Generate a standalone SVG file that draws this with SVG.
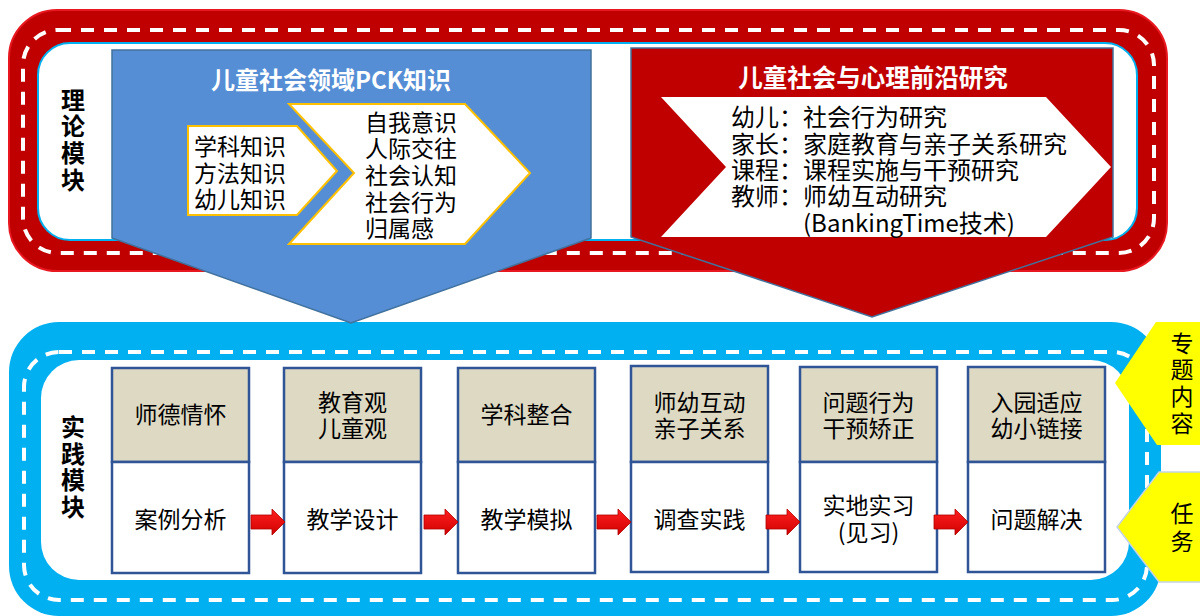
<svg xmlns="http://www.w3.org/2000/svg" width="1200" height="616" viewBox="0 0 1200 616">
<defs>
<style>
text{font-family:"Noto Sans CJK SC","Liberation Sans",sans-serif;dominant-baseline:central}
.dash{fill:none;stroke:#fff;stroke-width:4;stroke-dasharray:13 10}
.lbl{font-size:24px;font-weight:bold;fill:#000;text-anchor:middle}
.t{font-size:23px;fill:#000}
.c{text-anchor:middle}
.wt{font-size:24px;font-weight:bold;fill:#fff;text-anchor:middle}
.top{fill:#DDD9C3;stroke:#2F5597;stroke-width:2.5}
.bot{fill:#fff;stroke:#2F5597;stroke-width:2.5}
.arr{fill:url(#rg);stroke:#B00000;stroke-width:0.8}
.tab{fill:#FFFF00}
</style>
<linearGradient id="rg" x1="0" y1="0" x2="0" y2="1">
<stop offset="0" stop-color="#FF2020"/>
<stop offset="1" stop-color="#D00000"/>
</linearGradient>
</defs>

<g id="theory-frame">
<rect x="9" y="10" width="1158" height="261" rx="48" fill="#C00000" stroke="#E81820" stroke-width="2"/>
<rect class="dash" x="23" y="30" width="1131" height="223" rx="35"/>
<rect x="38" y="43" width="1099" height="197" rx="32" fill="#fff" stroke="#00B0F0" stroke-width="2"/>
<text class="lbl"><tspan x="73" y="98">理</tspan><tspan x="73" y="124">论</tspan><tspan x="73" y="151">模</tspan><tspan x="73" y="178">块</tspan></text>
</g>

<g id="practice-frame">
<rect x="9" y="322" width="1152" height="294" rx="50" fill="#00B0F0"/>
<rect class="dash" x="24" y="352" width="1123" height="248" rx="35"/>
<rect x="41" y="360" width="1088" height="220" rx="38" fill="#fff"/>
<text class="lbl"><tspan x="73" y="425">实</tspan><tspan x="73" y="452">践</tspan><tspan x="73" y="478">模</tspan><tspan x="73" y="505">块</tspan></text>
</g>

<g id="pck">
<polygon points="112,50 591,50 591,238 351,323 112,238" fill="#558ED5" stroke="#41719C" stroke-width="1.5"/>
<text class="wt" x="331" y="78">儿童社会领域PCK知识</text>
<polygon points="188,126 297,126 337,171 297,215 188,215" fill="#fff" stroke="#FFC000" stroke-width="2"/>
<text class="t"><tspan x="194" y="145">学科知识</tspan><tspan x="194" y="172">方法知识</tspan><tspan x="194" y="198">幼儿知识</tspan></text>
<polygon points="289,104 465,104 530,173 465,244 289,244 354,173" fill="#fff" stroke="#FFC000" stroke-width="2"/>
<text class="t"><tspan x="365" y="121">自我意识</tspan><tspan x="365" y="147">人际交往</tspan><tspan x="365" y="174">社会认知</tspan><tspan x="365" y="201">社会行为</tspan><tspan x="365" y="227">归属感</tspan></text>
</g>

<g id="research">
<polygon points="631,48 1113,48 1113,237 872,317 631,237" fill="#C00000" stroke="#41719C" stroke-width="1.5"/>
<text class="wt" style="font-size:24.5px" x="873" y="76">儿童社会与心理前沿研究</text>
<polygon points="661,97 1046,97 1111,167 1046,237 661,237 726,167" fill="#fff"/>
<text style="font-size:24px;fill:#000"><tspan x="731" y="115">幼儿：社会行为研究</tspan><tspan x="731" y="142">家长：家庭教育与亲子关系研究</tspan><tspan x="731" y="168">课程：课程实施与干预研究</tspan><tspan x="731" y="194">教师：师幼互动研究</tspan><tspan x="803" y="221">(BankingTime技术)</tspan></text>
</g>

<g id="box1">
<rect class="top" x="112" y="368" width="137" height="94"/>
<rect class="bot" x="112" y="462" width="137" height="111"/>
<text class="t c" x="180.5" y="413">师德情怀</text>
<text class="t c" x="180.5" y="518">案例分析</text>
</g>
<g id="box2">
<rect class="top" x="284" y="368" width="137" height="94"/>
<rect class="bot" x="284" y="462" width="137" height="111"/>
<text class="t c"><tspan x="352.5" y="401">教育观</tspan><tspan x="352.5" y="427">儿童观</tspan></text>
<text class="t c" x="352.5" y="518">教学设计</text>
</g>
<g id="box3">
<rect class="top" x="458" y="368" width="137" height="94"/>
<rect class="bot" x="458" y="462" width="137" height="111"/>
<text class="t c" x="526.5" y="413">学科整合</text>
<text class="t c" x="526.5" y="518">教学模拟</text>
</g>
<g id="box4">
<rect class="top" x="631" y="366" width="137" height="96"/>
<rect class="bot" x="631" y="462" width="137" height="110"/>
<text class="t c"><tspan x="699.5" y="401">师幼互动</tspan><tspan x="699.5" y="427">亲子关系</tspan></text>
<text class="t c" x="699.5" y="518">调查实践</text>
</g>
<g id="box5">
<rect class="top" x="800" y="367" width="137" height="95"/>
<rect class="bot" x="800" y="462" width="137" height="110"/>
<text class="t c"><tspan x="868.5" y="401">问题行为</tspan><tspan x="868.5" y="427">干预矫正</tspan></text>
<text class="t c"><tspan x="868.5" y="504">实地实习</tspan><tspan x="868.5" y="531">(见习)</tspan></text>
</g>
<g id="box6">
<rect class="top" x="968" y="367" width="137" height="95"/>
<rect class="bot" x="968" y="462" width="137" height="110"/>
<text class="t c"><tspan x="1036.5" y="401">入园适应</tspan><tspan x="1036.5" y="427">幼小链接</tspan></text>
<text class="t c" x="1036.5" y="518">问题解决</text>
</g>

<g id="connectors">
<polygon class="arr" points="251,515 272,515 272,509 285,522 272,535 272,529 251,529"/>
<polygon class="arr" points="424,515 445,515 445,509 458,522 445,535 445,529 424,529"/>
<polygon class="arr" points="597,515 618,515 618,509 631,522 618,535 618,529 597,529"/>
<polygon class="arr" points="766,515 787,515 787,509 800,522 787,535 787,529 766,529"/>
<polygon class="arr" points="934,515 955,515 955,509 968,522 955,535 955,529 934,529"/>
</g>

<g id="tab-topic">
<polygon class="tab" points="1156,322 1202,322 1202,445 1157,445 1115,383"/>
<text class="t c"><tspan x="1182" y="342">专</tspan><tspan x="1182" y="368">题</tspan><tspan x="1182" y="395">内</tspan><tspan x="1182" y="422">容</tspan></text>
</g>
<g id="tab-task">
<polygon class="tab" points="1159,472 1202,472 1202,582 1159,582 1117,527" stroke="#C5D3E8" stroke-width="1.5"/>
<text class="t c"><tspan x="1182" y="512">任</tspan><tspan x="1182" y="540">务</tspan></text>
</g>
</svg>
